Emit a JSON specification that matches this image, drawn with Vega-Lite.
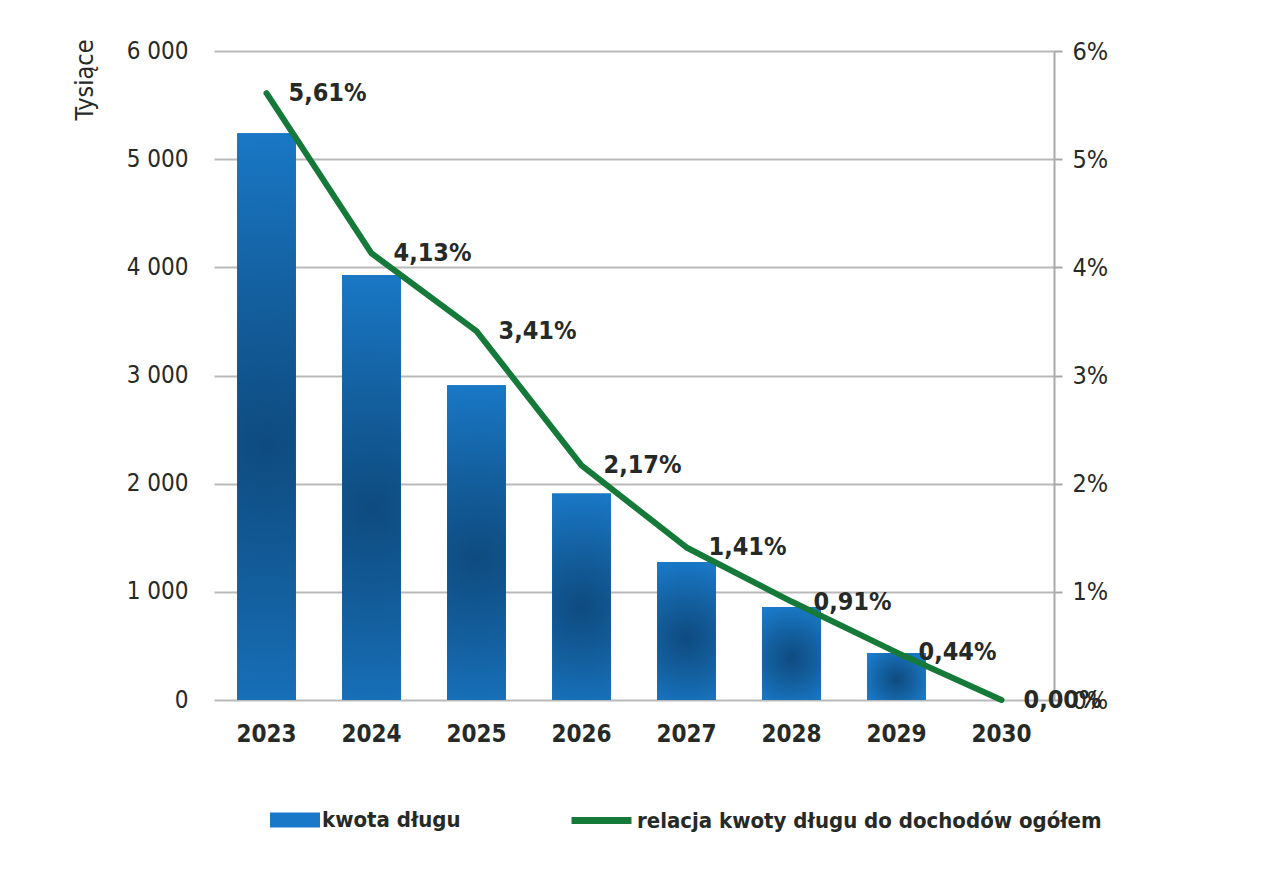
{
  "$schema": "https://vega.github.io/schema/vega-lite/v6.json",
  "width": 840,
  "height": 649,
  "autosize": {"type": "none"},
  "padding": {"left": 214, "top": 51, "right": 209, "bottom": 170},
  "background": "white",
  "config": {
    "locale": {"number": {"decimal": ",", "thousands": " ", "grouping": [3], "currency": ["", " zł"]}},
    "view": {"stroke": null},
    "font": "Liberation Sans Narrow, Arial Narrow, DejaVu Sans Condensed, sans-serif",
    "axis": {"labelColor": "#262a27", "titleColor": "#262a27", "labelFont": "Liberation Sans Narrow, Arial Narrow, DejaVu Sans Condensed, sans-serif", "titleFont": "Liberation Sans Narrow, Arial Narrow, DejaVu Sans Condensed, sans-serif"},
    "legend": {"labelFont": "Liberation Sans Narrow, Arial Narrow, DejaVu Sans Condensed, sans-serif"}
  },
  "data": {
    "values": [
      {"rok": "2023", "kwota": 5240, "relacja": 0.0561},
      {"rok": "2024", "kwota": 3930, "relacja": 0.0413},
      {"rok": "2025", "kwota": 2910, "relacja": 0.0341},
      {"rok": "2026", "kwota": 1910, "relacja": 0.0217},
      {"rok": "2027", "kwota": 1275, "relacja": 0.0141},
      {"rok": "2028", "kwota": 860, "relacja": 0.0091},
      {"rok": "2029", "kwota": 435, "relacja": 0.0044},
      {"rok": "2030", "kwota": 0, "relacja": 0.0}
    ]
  },
  "encoding": {
    "x": {
      "field": "rok",
      "type": "ordinal",
      "scale": {"paddingInner": 0.44, "paddingOuter": 0.22},
      "axis": {
        "title": null,
        "labelAngle": 0,
        "labelFontSize": 24,
        "labelFontWeight": "bold",
        "labelPadding": 22,
        "domain": false,
        "ticks": false,
        "grid": false
      }
    }
  },
  "layer": [
    {
      "encoding": {
        "y": {
          "field": "kwota",
          "type": "quantitative",
          "scale": {"domain": [0, 6000]},
          "axis": {
            "title": "Tysiące",
            "titleFontSize": 25,
            "titleFontWeight": "normal",
            "titleAnchor": "end",
            "titleAngle": -90,
            "titleAlign": "right",
            "titleBaseline": "alphabetic",
            "titleX": -122,
            "titleY": -12,
            "format": ",d",
            "values": [0, 1000, 2000, 3000, 4000, 5000, 6000],
            "labelFontSize": 24,
            "labelPadding": 26,
            "domain": false,
            "ticks": false,
            "grid": true,
            "gridColor": "#b9b9b9",
            "gridWidth": 2
          }
        }
      },
      "layer": [
        {
          "mark": {"type": "bar"},
          "encoding": {
            "fill": {
              "datum": "kwota długu",
              "scale": {"range": ["#1a78c8"]},
              "legend": {
                "title": null,
                "orient": "none",
                "legendX": 56,
                "legendY": 744,
                "symbolType": "M-1,-0.3H1V0.3H-1Z",
                "symbolSize": 2500,
                "symbolStrokeWidth": 0,
                "labelFontSize": 22,
                "labelFontWeight": "bold",
                "labelColor": "#262a27",
                "labelOffset": 2,
                "labelLimit": 700
              }
            }
          }
        },
        {
          "mark": {
            "type": "bar",
            "fill": {
              "gradient": "radial",
              "x1": 0.5, "y1": 0.55, "r1": 0,
              "x2": 0.5, "y2": 0.55, "r2": 0.6,
              "stops": [
                {"offset": 0, "color": "#0e4b7f"},
                {"offset": 0.5, "color": "#1462a3"},
                {"offset": 1, "color": "#1a7ccc"}
              ]
            }
          }
        }
      ]
    },
    {
      "encoding": {
        "y": {
          "field": "relacja",
          "type": "quantitative",
          "scale": {"domain": [0, 0.06]},
          "axis": {
            "orient": "right",
            "title": null,
            "format": ".0%",
            "values": [0, 0.01, 0.02, 0.03, 0.04, 0.05, 0.06],
            "labelFontSize": 25,
            "labelPadding": 10,
            "domain": true,
            "domainColor": "#a9a9a9",
            "domainWidth": 2,
            "ticks": true,
            "tickSize": 8,
            "tickColor": "#a9a9a9",
            "tickWidth": 2,
            "grid": false
          }
        }
      },
      "layer": [
        {
          "mark": {"type": "line", "strokeWidth": 6, "strokeJoin": "round", "strokeCap": "round", "interpolate": "linear"},
          "encoding": {
            "stroke": {
              "datum": "relacja kwoty długu do dochodów ogółem",
              "scale": {"range": ["#157a39"]},
              "legend": {
                "title": null,
                "orient": "none",
                "legendX": 354,
                "legendY": 736,
                "symbolType": "stroke",
                "symbolSize": 3600,
                "symbolStrokeWidth": 7,
                "labelFontSize": 22,
                "labelFontWeight": "bold",
                "labelColor": "#262a27",
                "labelOffset": 2,
                "labelLimit": 700
              }
            }
          }
        },
        {
          "mark": {
            "type": "text",
            "align": "left",
            "baseline": "middle",
            "dx": 22,
            "fontSize": 25,
            "fontWeight": "bold",
            "color": "#262a27"
          },
          "encoding": {
            "text": {"field": "relacja", "type": "quantitative", "format": ".2%"}
          }
        }
      ]
    }
  ],
  "resolve": {"scale": {"y": "independent", "fill": "independent", "stroke": "independent"}}
}
